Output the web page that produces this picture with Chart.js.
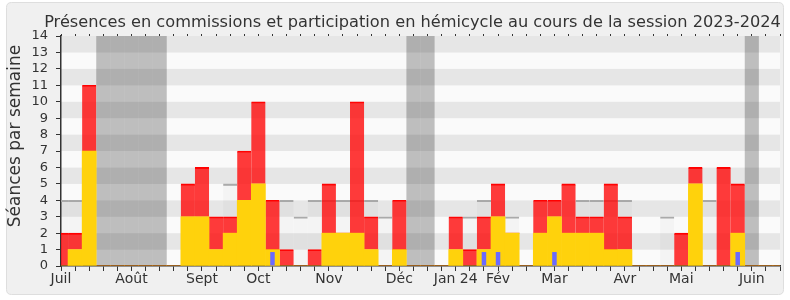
<!DOCTYPE html>
<html><head><meta charset="utf-8">
<script src="https://cdn.jsdelivr.net/npm/chart.js@4/dist/chart.umd.min.js"></script>
<style>html,body{margin:0;padding:0;background:#fff;}#wrap{width:790px;height:300px;}</style>
</head><body><div id="wrap"><canvas id="c" width="790" height="300"></canvas></div>
<script>
// 52 weeks of the 2023-2024 session, labelled by month at month starts
const monthLabels = ['Juil','','','','','Août','','','','','Sept','','','','Oct','','','','','Nov','','','','','Déc','','','','Jan 24','','','Fév','','','','Mar','','','','','Avr','','','','Mai','','','','','Juin','',''];
// hémicycle participation (yellow)
const hemicycle = [0,1,7,0,0,0,0,0,0,3,3,1,2,4,5,1,0,0,0,2,2,2,1,0,1,0,0,0,1,0,1,3,2,0,2,3,2,2,2,1,1,0,0,0,0,5,0,0,2,0,0,0];
// commission presences (red, stacked above yellow)
const commission = [2,1,4,0,0,0,0,0,0,2,3,2,1,3,5,3,1,0,1,3,0,8,2,0,3,0,0,0,2,1,2,2,0,0,2,1,3,1,1,4,2,0,0,0,2,1,0,6,3,0,0,0];
// interventions (blue narrow bars)
const interventions = [0,0,0,0,0,0,0,0,0,0,0,0,0,0,0,0.85,0,0,0,0,0,0,0,0,0,0,0,0,0,0,0.85,0.85,0,0,0,0.85,0,0,0,0,0,0,0,0,0,0,0,0,0.85,0,0,0];
// median of deputies (grey)
const median = [4,4,null,null,null,null,null,null,null,null,null,null,5,null,null,null,4,3,4,4,4,4,4,3,null,null,null,null,null,3,4,null,3,null,null,null,null,4,4,4,4,null,null,3,null,null,4,null,null,null,null,null];
// holiday weeks (index in weeks)
const vacationWeeks = [3,4,5,6,7,25,26,49];
const titleText = 'Présences en commissions et participation en hémicycle au cours de la session 2023-2024';
const yTitle = 'Séances par semaine';

const FAM = "'DejaVu Sans','Verdana',sans-serif";

function rr(ctx,x,y,w,h,r){ctx.beginPath();ctx.moveTo(x+r,y);ctx.lineTo(x+w-r,y);ctx.quadraticCurveTo(x+w,y,x+w,y+r);ctx.lineTo(x+w,y+h-r);ctx.quadraticCurveTo(x+w,y+h,x+w-r,y+h);ctx.lineTo(x+r,y+h);ctx.quadraticCurveTo(x,y+h,x,y+h-r);ctx.lineTo(x,y+r);ctx.quadraticCurveTo(x,y,x+r,y);ctx.closePath();}

const deco = {
  id:'deco',
  beforeDraw(chart){
    const ctx=chart.ctx, a=chart.chartArea, x=chart.scales.x, y=chart.scales.y;
    ctx.save();
    ctx.fillStyle='#fff';ctx.fillRect(0,0,chart.width,chart.height);
    rr(ctx,6.5,2.5,777,292,5);ctx.fillStyle='#f0f0f0';ctx.fill();ctx.strokeStyle='#dedede';ctx.lineWidth=1;ctx.stroke();
    for(let v=0; v<14; v++){
      const top=y.getPixelForValue(v+1), bot=y.getPixelForValue(v);
      ctx.fillStyle = (v%2===1)?'#e6e6e6':'#fafafa';
      ctx.fillRect(a.left,top,a.right-a.left,bot-top);
    }
    const half=(x.getPixelForValue(1)-x.getPixelForValue(0))/2;
    ctx.beginPath();ctx.rect(a.left,a.top,a.right-a.left,a.bottom-a.top);ctx.clip();
    ctx.fillStyle='rgba(0,0,0,0.24)';
    vacationWeeks.forEach(i=>{const c=x.getPixelForValue(i);ctx.fillRect(c-half,a.top,2*half,a.bottom-a.top);});
    ctx.restore();
  },
  afterDraw(chart){
    const ctx=chart.ctx;
    ctx.save();
    ctx.fillStyle='#333';
    ctx.font="16.2px "+FAM;ctx.textAlign='center';ctx.textBaseline='alphabetic';
    ctx.fillText(titleText,412.5,27);
    ctx.translate(19.5,136);ctx.rotate(-Math.PI/2);
    ctx.font="17px "+FAM;ctx.textAlign='center';ctx.textBaseline='alphabetic';
    ctx.fillText(yTitle,0,0);
    ctx.restore();
  }
};

new Chart(document.getElementById('c'),{
  type:'bar',
  data:{labels:monthLabels,datasets:[
    {label:'Médiane',data:median,stack:'m',grouped:false,order:4,backgroundColor:'rgba(0,0,0,0.025)',borderColor:'#aaaaaa',borderWidth:{top:1.5},borderSkipped:'start',categoryPercentage:1,barPercentage:1},
    {label:'Hémicycle',data:hemicycle,stack:'a',grouped:false,order:2,backgroundColor:'#ffd20c',categoryPercentage:1,barPercentage:1},
    {label:'Commissions',data:commission,stack:'a',grouped:false,order:3,backgroundColor:'rgba(255,10,10,0.8)',borderColor:'#ff0000',borderWidth:{top:1.2},borderSkipped:'start',categoryPercentage:1,barPercentage:1},
    {label:'Interventions',data:interventions,stack:'i',grouped:false,order:1,backgroundColor:'#6a6aff',categoryPercentage:1,barPercentage:0.32}
  ]},
  options:{
    responsive:false,animation:false,
    layout:{padding:{left:0,right:10,top:0,bottom:0}},
    plugins:{legend:{display:false},tooltip:{enabled:false},title:{display:false}},
    scales:{
      x:{type:'category',offset:false,
        grid:{offset:false,drawOnChartArea:false,drawTicks:true,tickLength:5,color:'#333',lineWidth:1},
        border:{display:true,color:'#333',width:1.5},
        ticks:{autoSkip:false,maxRotation:0,minRotation:0,color:'#333',font:{family:FAM,size:14},padding:0,callback:(v,i)=>monthLabels[i]},
        afterFit:s=>{s.height=34;}},
      x2:{type:'category',position:'top',offset:false,
        grid:{offset:false,drawOnChartArea:false,drawTicks:true,tickLength:2,color:'#333',lineWidth:1},
        border:{display:false},ticks:{display:false},
        afterFit:s=>{s.height=36;}},
      y:{stacked:true,min:0,max:14,
        ticks:{stepSize:1,autoSkip:false,color:'#333',font:{family:FAM,size:13},padding:8},
        grid:{drawOnChartArea:false,drawTicks:true,tickLength:5,color:'#333'},
        border:{color:'#333',width:1.5},
        afterFit:s=>{s.width=61;}}
    }
  },
  plugins:[deco]
});
</script>
</body></html>
